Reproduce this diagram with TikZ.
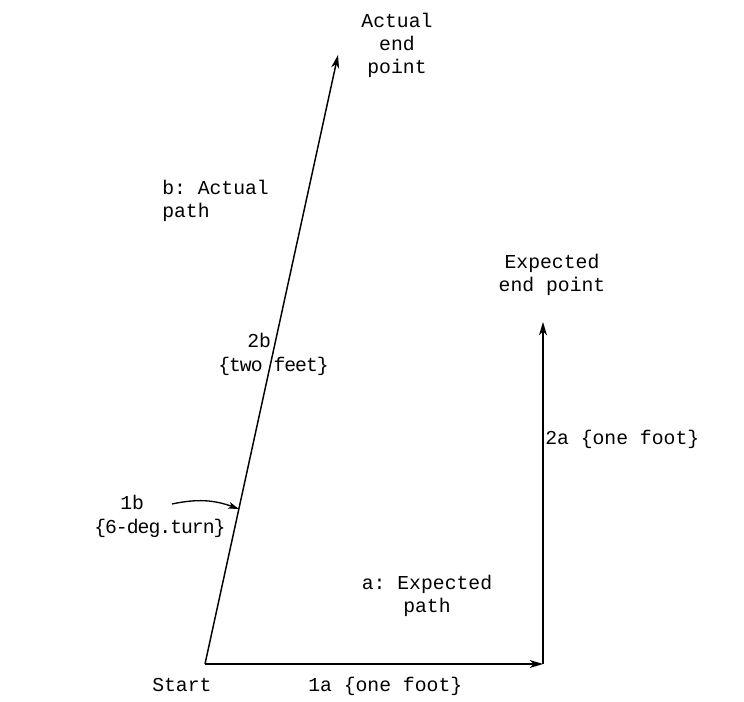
\documentclass[tikz,border=0pt]{standalone}
\usepackage{fontspec}
\setmonofont{Liberation Mono}
\usetikzlibrary{arrows.meta}
\begin{document}
\begin{tikzpicture}[x=0.75pt,y=-0.75pt,
  lbl/.style={font=\ttfamily\fontsize{14.8}{17.2}\selectfont,inner sep=0pt},
  tight/.style={font=\ttfamily\fontsize{14.8}{17.2}\selectfont\addfontfeatures{LetterSpace=-5}},
  path/.style={line width=1.1pt,-{Stealth[length=10pt,width=6pt,inset=3pt]}}]
\useasboundingbox (0,0) rectangle (744,702);
\coordinate (start) at (205,664);
\coordinate (corner) at (543,664);
\coordinate (expend) at (543,322);
\coordinate (actend) at (338,55);
\coordinate (c1) at (172,504);
\coordinate (c2) at (239,509);
\draw[path] (start) -- (corner);
\draw[path] (corner) -- (expend);
\draw[path] (start) -- (actend);
\draw[line width=1pt,-{Stealth[length=8pt,width=5pt,inset=2pt]}] (c1) to[out=12,in=160] (c2);
\node[lbl,align=center,anchor=north] (tact) at (397,13) {Actual\\end\\point};
\node[lbl,align=left,anchor=north west] (tbact) at (162,180) {b: Actual\\path};
\node[lbl,align=center,anchor=north] (texp) at (552,254) {Expected\\end point};
\node[lbl,anchor=base west] (t2b) at (247,348) {2b};
\node[lbl,tight,anchor=base west] (t2bb) at (218,372) {\{two feet\}};
\node[lbl,anchor=base west] (t2a) at (545,445) {2a \{one foot\}};
\node[lbl,anchor=base west] (t1b) at (120,510) {1b};
\node[lbl,tight,anchor=base west] (t1bb) at (94,534) {\{6-deg.turn\}};
\node[lbl,align=center,anchor=north] (taexp) at (427,575) {a: Expected\\path};
\node[lbl,anchor=base west] (tstart) at (152,692) {Start};
\node[lbl,anchor=base west] (t1a) at (308,692) {1a \{one foot\}};
\end{tikzpicture}
\end{document}
